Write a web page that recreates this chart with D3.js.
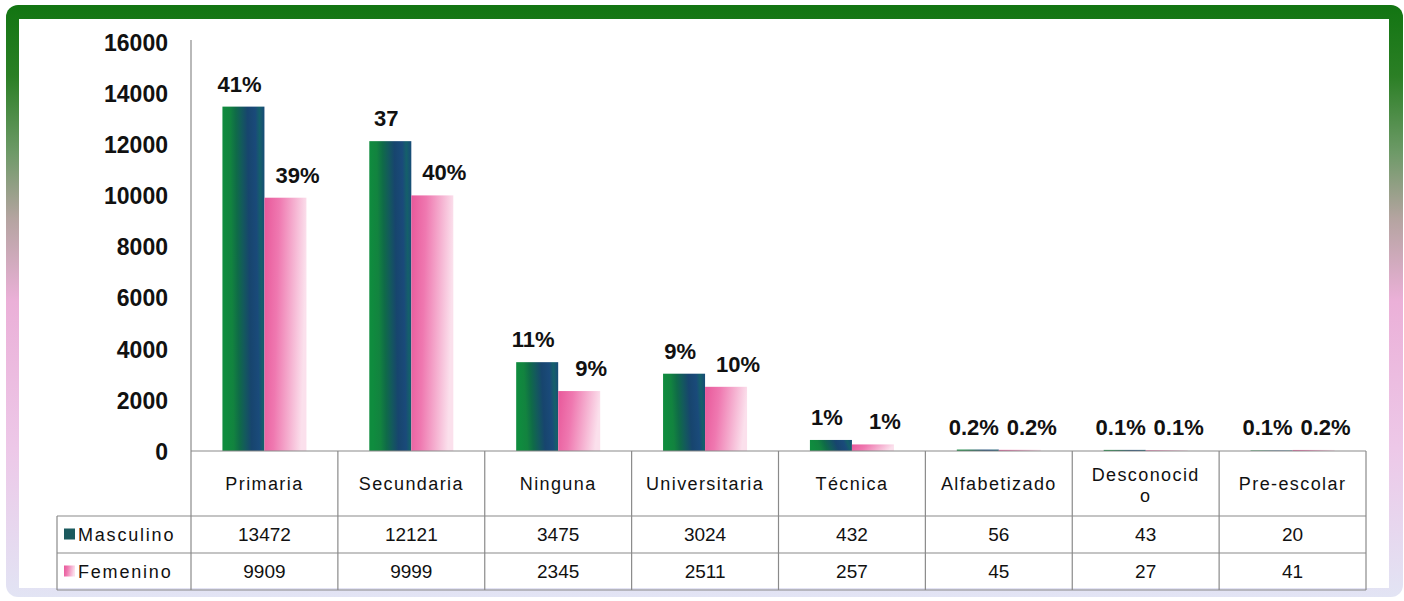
<!DOCTYPE html>
<html lang="es">
<head>
<meta charset="UTF-8">
<title>Nivel educativo</title>
<script src="https://cdnjs.cloudflare.com/ajax/libs/d3/7.8.5/d3.min.js"></script>
<style>
  body { margin: 0; background: #fff; }
  svg text { font-family: "Liberation Sans", Arial, sans-serif; }
  .tick-lbl { font-size: 23px; font-weight: bold; fill: #111; }
  .pct { font-size: 22px; font-weight: bold; fill: #111; }
  .cat { font-size: 18px; letter-spacing: 1.4px; fill: #111; }
  .cell { font-size: 19px; fill: #111; }
  .tline { stroke: #8a8a8a; stroke-width: 1.2; fill: none; }
</style>
</head>
<body>
<div id="chart"></div>
<script>
// datos
var categories = ["Primaria", "Secundaria", "Ninguna", "Universitaria", "Técnica", "Alfabetizado", "Desconocido", "Pre-escolar"];
var headerLines = [["Primaria"], ["Secundaria"], ["Ninguna"], ["Universitaria"], ["Técnica"], ["Alfabetizado"], ["Desconocid", "o"], ["Pre-escolar"]];
var series = ["Masculino", "Femenino"];
var masculino = [13472, 12121, 3475, 3024, 432, 56, 43, 20];
var femenino = [9909, 9999, 2345, 2511, 257, 45, 27, 41];
var pctMasculino = ["41%", "37", "11%", "9%", "1%", "0.2%", "0.1%", "0.1%"];
var pctFemenino = ["39%", "40%", "9%", "10%", "1%", "0.2%", "0.1%", "0.2%"];
var yTicks = [0, 2000, 4000, 6000, 8000, 10000, 12000, 14000, 16000];

var W = 1404, H = 601;
var plotL = 191, plotR = 1366, plotB = 451, plotT = 42;
var tableL = 57, row1 = 516, row2 = 553, tableB = 590;

var svg = d3.select("#chart").append("svg").attr("width", W).attr("height", H);
var defs = svg.append("defs");

// marco
var fg = defs.append("linearGradient").attr("id", "frameGrad")
  .attr("x1", 0).attr("y1", 0).attr("x2", 0).attr("y2", 1);
[[0, "#127512"], [0.12, "#2b7f25"], [0.25, "#6e9a68"], [0.36, "#b4a4a0"], [0.5, "#ebb0d8"], [0.75, "#edc8e8"], [1, "#e2e4f4"]]
  .forEach(function(s){ fg.append("stop").attr("offset", s[0]).attr("stop-color", s[1]); });

svg.append("rect").attr("x", 6).attr("y", 5).attr("width", 1397).attr("height", 592)
  .attr("rx", 12).attr("fill", "url(#frameGrad)");
svg.append("rect").attr("x", 19).attr("y", 19).attr("width", 1370).attr("height", 569)
  .attr("fill", "#fff");

// gradientes de barras
var mg = defs.append("linearGradient").attr("id", "mascGrad")
  .attr("x1", 0).attr("y1", 0.1).attr("x2", 1).attr("y2", 0);
[[0, "#0f8c3e"], [0.18, "#12833f"], [0.32, "#0f6b48"], [0.45, "#135a5c"], [0.6, "#17456e"], [0.78, "#1a4a7a"], [0.88, "#14606a"], [1, "#184a78"]]
  .forEach(function(s){ mg.append("stop").attr("offset", s[0]).attr("stop-color", s[1]); });
var pg = defs.append("linearGradient").attr("id", "femGrad")
  .attr("x1", 0).attr("y1", 0).attr("x2", 1).attr("y2", 0.15);
[[0, "#e8589a"], [0.35, "#ef78b0"], [0.7, "#f5b0d0"], [1, "#fbe0ec"]]
  .forEach(function(s){ pg.append("stop").attr("offset", s[0]).attr("stop-color", s[1]); });
var fills = { "Masculino": "url(#mascGrad)", "Femenino": "url(#femGrad)" };

// escalas
var x = d3.scaleBand().domain(categories).range([plotL, plotR]);
var x1 = d3.scaleBand().domain(series).range([x.bandwidth() * 0.214, x.bandwidth() * 0.786]);
var y = d3.scaleLinear().domain([0, 16000]).range([plotB, plotT]);

// eje Y
var yAxis = d3.axisLeft(y).tickValues(yTicks).tickSize(0).tickPadding(23).tickFormat(d3.format("d"));
var gy = svg.append("g").attr("transform", "translate(" + plotL + ",0)").call(yAxis);
gy.select(".domain").remove();
gy.selectAll("text").attr("class", "tick-lbl").attr("dy", "0.36em");

// barras
var rows = categories.map(function(c, i){
  return { cat: c, vals: [
    { s: "Masculino", v: masculino[i], p: pctMasculino[i] },
    { s: "Femenino", v: femenino[i], p: pctFemenino[i] } ] };
});
var grp = svg.selectAll(".grp").data(rows).enter().append("g")
  .attr("transform", function(d){ return "translate(" + x(d.cat) + ",0)"; });
grp.selectAll("rect").data(function(d){ return d.vals; }).enter().append("rect")
  .attr("x", function(d){ return x1(d.s); })
  .attr("y", function(d){ return y(d.v); })
  .attr("width", x1.bandwidth())
  .attr("height", function(d){ return plotB - y(d.v); })
  .attr("fill", function(d){ return fills[d.s]; });
grp.selectAll("text.pct").data(function(d){ return d.vals; }).enter().append("text")
  .attr("class", "pct")
  .attr("text-anchor", "middle")
  .attr("x", function(d){ return x1(d.s) + x1.bandwidth() / 2 + (d.s === "Femenino" ? 12 : -4); })
  .attr("y", function(d){ return y(d.v) - 15; })
  .text(function(d){ return d.p; });

// tabla de datos
svg.append("line").attr("class", "tline")
  .attr("x1", plotL).attr("x2", plotL).attr("y1", plotT - 2).attr("y2", tableB);
svg.append("line").attr("class", "tline")
  .attr("x1", plotL).attr("x2", plotR).attr("y1", plotB).attr("y2", plotB);
[row1, row2, tableB].forEach(function(ry){
  svg.append("line").attr("class", "tline").attr("x1", tableL).attr("x2", plotR).attr("y1", ry).attr("y2", ry);
});
svg.append("line").attr("class", "tline").attr("x1", tableL).attr("x2", tableL).attr("y1", row1).attr("y2", tableB);
categories.forEach(function(c){
  svg.append("line").attr("class", "tline")
    .attr("x1", x(c) + x.bandwidth()).attr("x2", x(c) + x.bandwidth())
    .attr("y1", plotB).attr("y2", tableB);
});

// encabezados
categories.forEach(function(c, i){
  var lines = headerLines[i];
  var t = svg.append("text").attr("class", "cat").attr("text-anchor", "middle");
  var y0 = lines.length === 1 ? 490 : 481;
  lines.forEach(function(l, k){
    t.append("tspan").attr("x", x(c) + x.bandwidth() / 2).attr("y", y0 + k * 21).text(l);
  });
});

// filas de valores
var rowY = { "Masculino": (row1 + row2) / 2, "Femenino": (row2 + tableB) / 2 };
var rowVals = { "Masculino": masculino, "Femenino": femenino };
series.forEach(function(s){
  svg.append("rect").attr("x", 64).attr("y", rowY[s] - 6).attr("width", 11).attr("height", 11)
    .attr("fill", s === "Masculino" ? "#1b5a5e" : "url(#femGrad)");
  svg.append("text").attr("class", "cat").attr("x", 78).attr("y", rowY[s]).attr("dy", "0.36em")
    .style("letter-spacing", "1.8px").text(s);
  svg.selectAll(null).data(rowVals[s]).enter().append("text")
    .attr("class", "cell").attr("text-anchor", "middle")
    .attr("x", function(d, i){ return x(categories[i]) + x.bandwidth() / 2; })
    .attr("y", rowY[s]).attr("dy", "0.36em")
    .text(function(d){ return d; });
});
</script>
</body>
</html>
